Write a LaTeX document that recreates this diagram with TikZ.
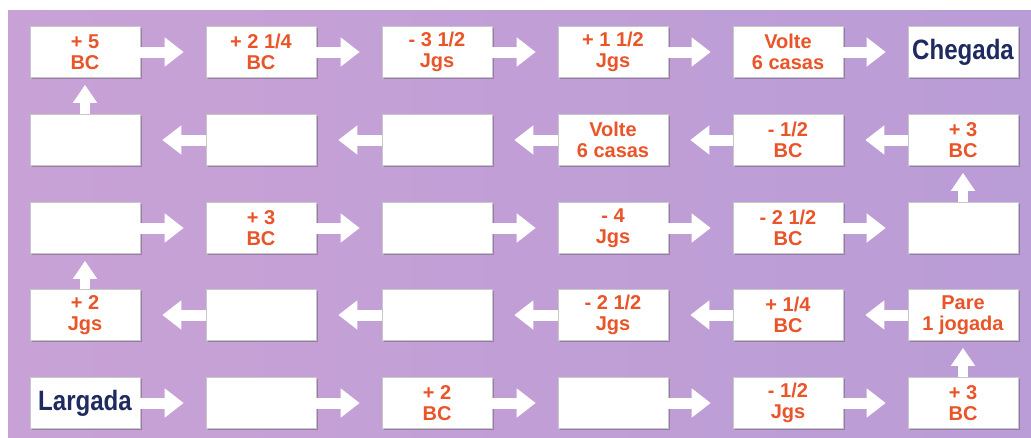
\documentclass[tikz,border=0pt]{standalone}
\usepackage{fontspec}
\setmainfont{Liberation Sans}
\newfontfamily\navyfont[FakeStretch=0.86]{Liberation Sans}
\usetikzlibrary{arrows.meta,shadows}
\definecolor{bgl}{RGB}{200,162,214}
\definecolor{bgr}{RGB}{186,156,214}
\definecolor{orangetxt}{RGB}{233,84,40}
\definecolor{navytxt}{RGB}{30,42,96}
\tikzset{
  box/.style={rectangle, fill=white, draw=black!22, line width=0.6pt,
    minimum width=110pt, minimum height=51pt, inner sep=0pt, align=center,
    text=orangetxt, font=\fontsize{20}{21}\selectfont\bfseries,
    drop shadow={shadow xshift=1.5pt, shadow yshift=-1.5pt, fill=black, opacity=0.22}},
  endbox/.style={box, text=navytxt, font=\navyfont\fontsize{28}{30}\selectfont\bfseries},
  harr/.style={draw=white, line width=11pt, -{Triangle[width=28pt,length=19pt]}},
  varr/.style={draw=white, line width=10pt, -{Triangle[width=23pt,length=18pt]}}
}
\begin{document}
\begin{tikzpicture}[x=1pt,y=-1pt]
\useasboundingbox (0,0) rectangle (1031,437);
\fill[white] (0,0) rectangle (1031,437);
\shade[left color=bgl, right color=bgr] (8,10) rectangle (1031,437);
% row 1
\node[box] (r1c1) at (85,52) {+ 5\\BC};
\node[box] (r1c2) at (261,52) {+ 2 1/4\\BC};
\node[box] (r1c3) at (437,52) {- 3 1/2\\Jgs};
\node[box] (r1c4) at (613,52) {+ 1 1/2\\Jgs};
\node[box] (r1c5) at (788,52) {Volte\\6 casas};
\node[endbox] (r1c6) at (963,52) {Chegada};
% row 2
\node[box] (r2c1) at (85,140) {};
\node[box] (r2c2) at (261,140) {};
\node[box] (r2c3) at (437,140) {};
\node[box] (r2c4) at (613,140) {Volte\\6 casas};
\node[box] (r2c5) at (788,140) {- 1/2\\BC};
\node[box] (r2c6) at (963,140) {+ 3\\BC};
% row 3
\node[box] (r3c1) at (85,228) {};
\node[box] (r3c2) at (261,228) {+ 3\\BC};
\node[box] (r3c3) at (437,228) {};
\node[box] (r3c4) at (613,228) {- 4\\Jgs};
\node[box] (r3c5) at (788,228) {- 2 1/2\\BC};
\node[box] (r3c6) at (963,228) {};
% row 4
\node[box] (r4c1) at (85,315) {+ 2\\Jgs};
\node[box] (r4c2) at (261,315) {};
\node[box] (r4c3) at (437,315) {};
\node[box] (r4c4) at (613,315) {- 2 1/2\\Jgs};
\node[box] (r4c5) at (788,315) {+ 1/4\\BC};
\node[box] (r4c6) at (963,315) {Pare\\1 jogada};
% row 5
\node[endbox] (r5c1) at (85,403) {Largada};
\node[box] (r5c2) at (261,403) {};
\node[box] (r5c3) at (437,403) {+ 2\\BC};
\node[box] (r5c4) at (613,403) {};
\node[box] (r5c5) at (788,403) {- 1/2\\Jgs};
\node[box] (r5c6) at (963,403) {+ 3\\BC};
% right-going arrows (rows 1, 3, 5)
\foreach \r in {1,3,5}{
  \foreach \a/\b in {1/2,2/3,3/4,4/5,5/6}{
    \draw[harr] (r\r c\a.east) -- ([xshift=-22pt]r\r c\b.west);
  }
}
% left-going arrows (rows 2, 4)
\foreach \r in {2,4}{
  \foreach \a/\b in {2/1,3/2,4/3,5/4,6/5}{
    \draw[harr] (r\r c\a.west) -- ([xshift=22pt]r\r c\b.east);
  }
}
% upward arrows
\draw[varr] (r5c6.north) -- ([yshift=-7pt]r4c6.south);
\draw[varr] (r4c1.north) -- ([yshift=-7pt]r3c1.south);
\draw[varr] (r3c6.north) -- ([yshift=-7pt]r2c6.south);
\draw[varr] (r2c1.north) -- ([yshift=-7pt]r1c1.south);
\end{tikzpicture}
\end{document}
